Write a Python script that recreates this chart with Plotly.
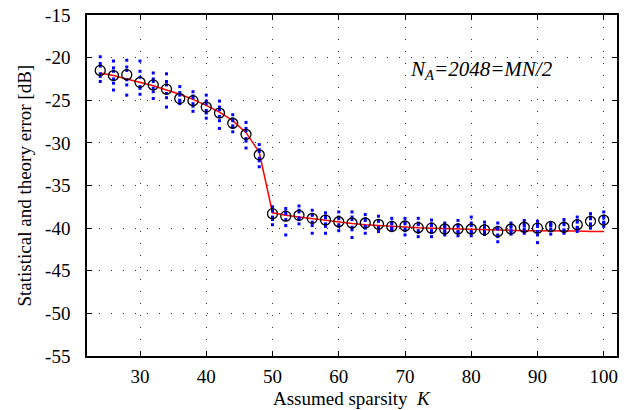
import plotly.graph_objects as go

K = [24, 26, 28, 30, 32, 34, 36, 38, 40, 42, 44, 46, 48, 50, 52, 54, 56, 58, 60, 62,
     64, 66, 68, 70, 72, 74, 76, 78, 80, 82, 84, 86, 88, 90, 92, 94, 96, 98, 100]

# statistical mean (black circles)
stat_mean = [-21.5, -22.1, -22.0, -22.9, -23.2, -23.7, -24.8, -25.05, -25.8, -26.5,
             -27.7, -29.0, -31.4, -38.3, -38.6, -38.5, -38.85, -39.05, -39.25, -39.4,
             -39.4, -39.55, -39.8, -39.75, -39.95, -40.0, -40.1, -40.1, -40.1, -40.2,
             -40.4, -40.1, -39.9, -40.0, -39.8, -39.9, -39.6, -39.2, -39.05]

# theory (red line)
theory = [-21.8, -22.1, -22.5, -22.9, -23.3, -23.8, -24.3, -24.9, -25.6, -26.4,
          -27.4, -28.8, -31.1, -38.2, -38.5, -38.7, -38.9, -39.1, -39.3, -39.45,
          -39.6, -39.7, -39.8, -39.9, -39.95, -40.0, -40.05, -40.1, -40.15, -40.2,
          -40.2, -40.25, -40.3, -40.3, -40.3, -40.35, -40.35, -40.4, -40.4]

# individual trials (blue dots)
dots_max = [-19.9, -20.4, -20.3, -20.4, -21.8, -21.9, -23.4, -24.0, -24.4, -25.1,
            -26.7, -27.6, -30.2, -37.5, -37.7, -37.4, -37.9, -38.2, -38.1, -38.1,
            -38.4, -38.6, -38.85, -38.85, -38.85, -39.05, -39.4, -39.1, -38.7, -39.3,
            -39.4, -39.4, -39.1, -39.2, -39.4, -39.0, -38.7, -38.3, -38.1]
dots_hi = [-20.7, -21.2, -21.1, -21.6, -22.5, -22.8, -24.1, -24.5, -25.1, -25.8,
           -27.2, -28.3, -30.8, -37.9, -38.1, -37.9, -38.4, -38.6, -38.7, -38.7,
           -38.9, -39.1, -39.3, -39.3, -39.4, -39.5, -39.7, -39.6, -39.4, -39.7,
           -39.9, -39.7, -39.5, -39.6, -39.6, -39.4, -39.1, -38.7, -38.6]
dots_up = [-21.0, -21.6, -21.5, -22.3, -22.8, -23.2, -24.4, -24.7, -25.4, -26.1,
           -27.4, -28.6, -31.0, -38.0, -38.3, -38.1, -38.5, -38.8, -38.9, -39.0,
           -39.1, -39.2, -39.5, -39.5, -39.6, -39.7, -39.9, -39.8, -39.7, -39.9,
           -40.1, -39.9, -39.7, -39.8, -39.7, -39.6, -39.3, -38.9, -38.8]
dots_dn = [-21.9, -22.5, -22.6, -23.4, -23.6, -24.2, -25.0, -25.4, -26.2, -26.9,
           -28.0, -29.5, -31.8, -38.7, -39.0, -38.8, -39.3, -39.5, -39.6, -39.9,
           -39.8, -39.9, -40.0, -40.1, -40.3, -40.3, -40.3, -40.4, -40.4, -40.4,
           -40.8, -40.3, -40.1, -40.4, -40.1, -40.2, -39.9, -39.5, -39.3]
dots_lo = [-22.2, -23.0, -23.2, -23.6, -24.0, -24.7, -25.2, -25.7, -26.5, -27.4,
           -28.2, -29.8, -32.1, -39.0, -39.7, -39.0, -39.7, -39.8, -39.8, -40.2,
           -40.0, -40.0, -40.1, -40.3, -40.5, -40.5, -40.5, -40.5, -40.5, -40.5,
           -41.0, -40.4, -40.3, -40.8, -40.3, -40.3, -40.0, -39.6, -39.4]
dots_min = [-22.8, -23.8, -24.4, -24.3, -24.8, -25.8, -25.4, -26.3, -27.1, -28.3,
            -28.7, -30.6, -32.8, -39.6, -40.8, -39.5, -40.6, -40.6, -40.3, -41.1,
            -40.6, -40.4, -40.3, -40.8, -41.0, -41.0, -40.8, -40.9, -40.9, -40.75,
            -41.6, -40.7, -40.6, -41.7, -40.7, -40.6, -40.4, -40.0, -39.8]

x_ticks = [30, 40, 50, 60, 70, 80, 90, 100]
x_labels = ["30", "40", "50", "60", "70", "80", "90", "100"]
y_ticks = [-55, -50, -45, -40, -35, -30, -25, -20, -15]
y_labels = ["-55", "-50", "-45", "-40", "-35", "-30", "-25", "-20", "-15"]

FONT = "Liberation Serif"

fig = go.Figure()

fig.add_trace(go.Scatter(x=K, y=theory, mode="lines",
                         line=dict(color="red", width=1.5), showlegend=False))

for arr in [dots_max, dots_hi, dots_up, dots_dn, dots_lo, dots_min]:
    fig.add_trace(go.Scatter(x=K, y=arr, mode="markers",
                             marker=dict(symbol="square", size=3, color="blue",
                                         line=dict(width=0)),
                             showlegend=False))

fig.add_trace(go.Scatter(x=K, y=stat_mean, mode="markers",
                         marker=dict(symbol="circle-open", size=10, color="black",
                                     line=dict(width=1.3, color="black")),
                         showlegend=False))

axis_common = dict(
    showline=True, linecolor="black", linewidth=1.5, mirror="ticks",
    ticks="inside", ticklen=5, tickwidth=1, tickcolor="black",
    showgrid=True, gridcolor="#333", gridwidth=1, griddash="1px,11px",
    zeroline=False, automargin=False,
    tickfont=dict(family=FONT, size=19, color="black"),
)

fig.update_xaxes(range=[22, 102], tickvals=x_ticks, ticktext=x_labels,
                 ticklabelstandoff=2, **axis_common)
fig.update_yaxes(range=[-55, -15], tickvals=y_ticks, ticktext=y_labels,
                 ticklabelstandoff=11, **axis_common)

# axis titles
fig.add_annotation(x=0.5, y=-0.125, xref="paper", yref="paper",
                   text="Assumed sparsity  <i>K</i>", showarrow=False,
                   xanchor="center", yanchor="middle",
                   font=dict(family=FONT, size=19, color="black"))
fig.add_annotation(x=-0.117, y=0.5, xref="paper", yref="paper",
                   text="Statistical and theory error [dB]", showarrow=False,
                   textangle=-90, xanchor="center", yanchor="middle",
                   font=dict(family=FONT, size=19, color="black"))

fig.add_annotation(x=81.6, y=-21.5, xref="x", yref="y",
                   text="<i>N<sub>A</sub>=2048=MN/2</i>", showarrow=False,
                   font=dict(family=FONT, size=21, color="black"))

fig.update_layout(
    width=630, height=410,
    margin=dict(l=87, r=13, t=15, b=54, autoexpand=False),
    plot_bgcolor="white", paper_bgcolor="white",
    font=dict(family=FONT, size=19, color="black"),
)

fig.write_html("out.html", config={"displayModeBar": False},
               post_script="document.body.style.margin='0px';document.body.style.overflow='hidden';")
